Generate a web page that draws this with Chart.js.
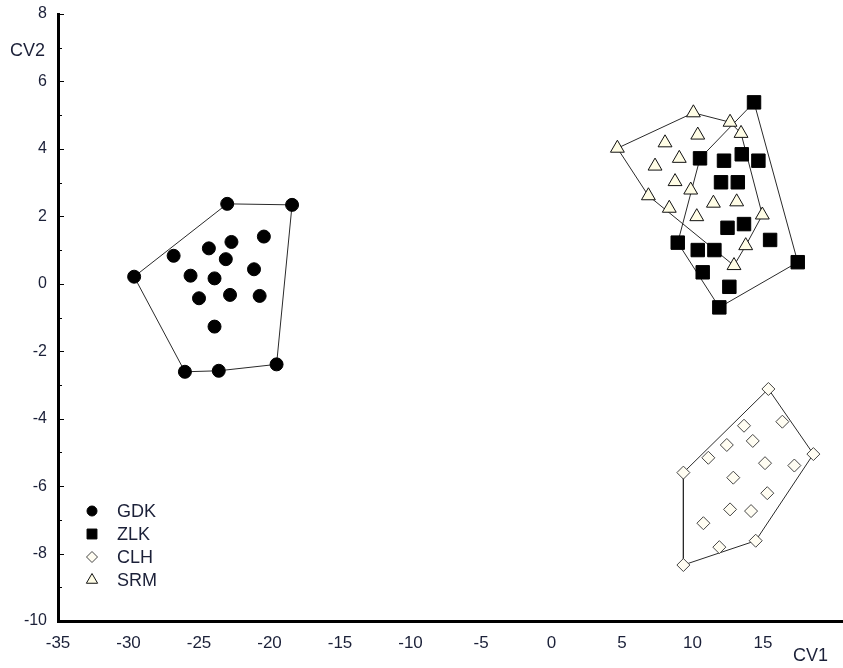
<!DOCTYPE html>
<html>
<head>
<meta charset="utf-8">
<script src="https://cdn.jsdelivr.net/npm/chart.js@4/dist/chart.umd.min.js"></script>
<style>
  html, body { margin: 0; padding: 0; background: #ffffff; }
  #wrap { width: 843px; height: 668px; }
</style>
</head>
<body>
<div id="wrap"><canvas id="cv" width="843" height="668"></canvas></div>
<script>
// Canonical variate scores for the four groups
const groups = ['GDK', 'ZLK', 'CLH', 'SRM'];

const gdkX = [-29.6, -23.0, -18.4, -26.8, -24.3, -22.7, -20.4, -23.1, -21.1, -25.6, -23.9, -25.0, -22.8, -20.7, -23.9, -26.0, -23.6, -19.5];
const gdkY = [0.21, 2.37, 2.34, 0.83, 1.05, 1.24, 1.40, 0.73, 0.43, 0.24, 0.16, -0.43, -0.33, -0.36, -1.27, -2.61, -2.58, -2.39];

const zlkX = [14.36, 10.53, 12.23, 13.49, 14.67, 12.02, 13.21, 12.48, 13.65, 15.50, 8.95, 10.37, 11.55, 10.72, 12.61, 17.46, 11.90];
const zlkY = [5.38, 3.72, 3.65, 3.84, 3.65, 3.01, 3.01, 1.66, 1.77, 1.30, 1.22, 1.00, 1.00, 0.34, -0.09, 0.64, -0.70];

const clhX = [15.38, 16.37, 13.65, 14.27, 12.43, 18.57, 11.12, 15.14, 17.22, 9.35, 12.89, 15.30, 12.66, 14.15, 10.77, 14.48, 11.90, 9.35];
const clhY = [-3.12, -4.09, -4.21, -4.66, -4.78, -5.05, -5.16, -5.32, -5.39, -5.60, -5.75, -6.21, -6.69, -6.74, -7.10, -7.62, -7.81, -8.34];

const srmX = [4.67, 10.06, 12.66, 13.44, 10.37, 8.05, 9.06, 7.34, 8.76, 9.87, 6.87, 8.35, 10.30, 11.48, 13.13, 14.95, 13.77, 12.94];
const srmY = [4.02, 5.07, 4.79, 4.46, 4.41, 4.18, 3.72, 3.49, 3.03, 2.78, 2.61, 2.24, 1.99, 2.39, 2.43, 2.04, 1.13, 0.54];

const xTicks = [-35, -30, -25, -20, -15, -10, -5, 0, 5, 10, 15];
const yTicks = [-10, -8, -6, -4, -2, 0, 2, 4, 6, 8];
const xTitle = 'CV1';
const yTitle = 'CV2';

const TEXT = '#1b2038';
const FONT = '"Liberation Sans", Arial, sans-serif';

function pts(xs, ys) { return xs.map((x, i) => ({ x: x, y: ys[i] })); }

// Convex hull (monotone chain), returned closed for drawing as a polygon
function hull(points) {
  const p = points.slice().sort((a, b) => a.x - b.x || a.y - b.y);
  const cross = (o, a, b) => (a.x - o.x) * (b.y - o.y) - (a.y - o.y) * (b.x - o.x);
  const lower = [], upper = [];
  for (const q of p) {
    while (lower.length >= 2 && cross(lower[lower.length - 2], lower[lower.length - 1], q) <= 0) lower.pop();
    lower.push(q);
  }
  for (let i = p.length - 1; i >= 0; i--) {
    const q = p[i];
    while (upper.length >= 2 && cross(upper[upper.length - 2], upper[upper.length - 1], q) <= 0) upper.pop();
    upper.push(q);
  }
  upper.pop(); lower.pop();
  const h = lower.concat(upper);
  h.push(h[0]);
  return h;
}

const series = [
  { label: groups[0], data: pts(gdkX, gdkY), pointStyle: 'circle',   radius: 6.5, bg: '#000000', bd: '#000000', lr: 5 },
  { label: groups[1], data: pts(zlkX, zlkY), pointStyle: 'rect',     radius: 9.5, bg: '#000000', bd: '#000000', lr: 7 },
  { label: groups[2], data: pts(clhX, clhY), pointStyle: 'rectRot',  radius: 6.5, bg: '#fffdf2', bd: '#444444', lr: 5.5 },
  { label: groups[3], data: pts(srmX, srmY), pointStyle: 'triangle', radius: 8,   bg: '#fffde6', bd: '#111111', lr: 6.5 }
];

const datasets = [];
series.forEach(s => {
  datasets.push({
    label: s.label,
    data: s.data,
    pointStyle: s.pointStyle,
    pointRadius: s.radius,
    pointHoverRadius: s.radius,
    pointBackgroundColor: s.bg,
    pointBorderColor: s.bd,
    pointBorderWidth: 1,
    showLine: false,
    order: 0,
    legendRadius: s.lr
  });
});
series.forEach(s => {
  datasets.push({
    label: s.label + ' hull',
    data: hull(s.data),
    showLine: true,
    fill: false,
    pointRadius: 0,
    pointHoverRadius: 0,
    borderColor: '#2a2a2a',
    borderWidth: 1,
    tension: 0,
    order: 10,
    isHull: true
  });
});

// Short inward tick marks on the vertical axis (even = major, odd = minor)
const innerTicks = {
  id: 'innerTicks',
  afterDraw(chart) {
    const ctx = chart.ctx, ys = chart.scales.y, left = chart.chartArea.left;
    ctx.save();
    ctx.strokeStyle = '#000';
    ctx.lineWidth = 1;
    for (let v = ys.min; v <= ys.max; v++) {
      const py = Math.round(ys.getPixelForValue(v)) + 0.5;
      const len = (v % 2 === 0) ? 5 : 3;
      ctx.beginPath();
      ctx.moveTo(left + 1, py);
      ctx.lineTo(left + 1 + len, py);
      ctx.stroke();
    }
    ctx.restore();
  }
};

// Axis names and the in-plot legend
const extras = {
  id: 'extras',
  afterDraw(chart) {
    const ctx = chart.ctx;
    ctx.save();
    ctx.fillStyle = TEXT;
    ctx.font = '18px ' + FONT;
    ctx.textBaseline = 'middle';
    ctx.textAlign = 'left';
    ctx.fillText(yTitle, 10, 51);
    ctx.fillText(xTitle, 793, 656);

    const x0 = 92, y0 = 511, step = 23;
    chart.data.datasets.filter(d => !d.isHull).forEach((d, i) => {
      const y = y0 + i * step;
      ctx.fillStyle = d.pointBackgroundColor;
      ctx.strokeStyle = d.pointBorderColor;
      ctx.lineWidth = 1;
      Chart.helpers.drawPoint(ctx, { pointStyle: d.pointStyle, radius: d.legendRadius, rotation: 0, borderWidth: 1 }, x0, y);
      ctx.fillStyle = TEXT;
      ctx.fillText(d.label, 117, y + 1);
    });
    ctx.restore();
  }
};

new Chart(document.getElementById('cv'), {
  type: 'scatter',
  data: { datasets: datasets },
  plugins: [innerTicks, extras],
  options: {
    responsive: false,
    animation: false,
    events: [],
    layout: { autoPadding: false, padding: { top: 14, left: 0, right: 0, bottom: 0 } },
    plugins: {
      legend: { display: false },
      tooltip: { enabled: false }
    },
    scales: {
      x: {
        type: 'linear',
        min: -35,
        max: 20.67,
        afterBuildTicks: s => { s.ticks = xTicks.map(v => ({ value: v })); },
        afterFit: s => { s.height = 47; s.paddingLeft = 0; s.paddingRight = 0; },
        grid: { display: true, drawOnChartArea: false, drawTicks: false },
        border: { display: true, color: '#000', width: 3 },
        ticks: {
          autoSkip: false,
          maxRotation: 0,
          padding: 12,
          color: TEXT,
          font: { family: FONT, size: 17 }
        }
      },
      y: {
        type: 'linear',
        min: -10,
        max: 8,
        afterBuildTicks: s => { s.ticks = yTicks.map(v => ({ value: v })); },
        afterFit: s => { s.width = 58; s.paddingTop = 0; s.paddingBottom = 0; },
        grid: { display: true, drawOnChartArea: false, drawTicks: false },
        border: { display: true, color: '#000', width: 3 },
        ticks: {
          autoSkip: false,
          padding: 11,
          color: TEXT,
          font: { family: FONT, size: 16 }
        }
      }
    }
  }
});
</script>
</body>
</html>
